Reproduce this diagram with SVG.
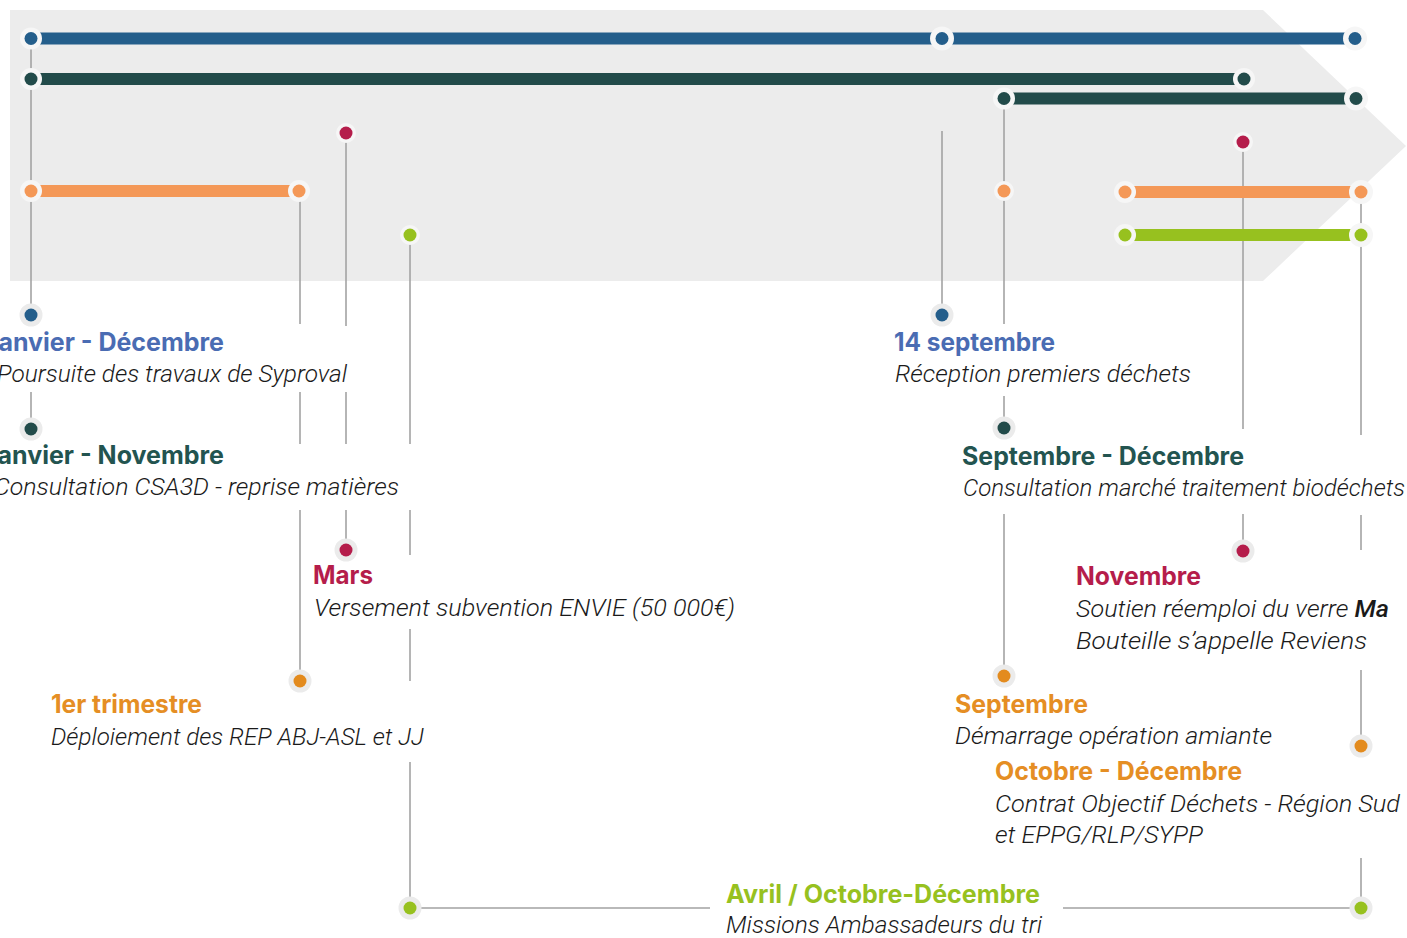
<svg xmlns="http://www.w3.org/2000/svg" width="1407" height="938" viewBox="0 0 1407 938">
<style>
.bg{fill:#ececec}
.ln{stroke:#a3a3a3;stroke-width:1.6;fill:none}
.bar{stroke-width:12;fill:none}
.ringA{fill:#f6f6f6}
.ringB{fill:#ebebeb}
.h{font-family:Inter,"Liberation Sans",sans-serif;font-weight:700;font-size:25px}
.b{font-family:Roboto,"Liberation Sans",sans-serif;font-style:italic;font-weight:300;font-size:24px;fill:#1a1a1a}
.blue{fill:#4a6cb3}.dgreen{fill:#235450}.crim{fill:#b51d4b}.orange{fill:#e58e24}.lgreen{fill:#97c11f}
</style>
<rect x="0" y="0" width="1407" height="938" fill="#ffffff"/>
<polygon class="bg" points="10,10 1263,10 1406,146 1263,281 10,281"/>
<g id="connectors">
<path class="ln" d="M31 38V315M31 392V429"/>
<path class="ln" d="M300 191V324M300 392V444M300 510V681"/>
<path class="ln" d="M346 133V326M346 392V444M346 510V550"/>
<path class="ln" d="M410 235V444M410 510V555M410 629V681M410 762V908"/>
<path class="ln" d="M942 131V315"/>
<path class="ln" d="M1004 98V324M1004 396V428M1004 514V676"/>
<path class="ln" d="M1243 142V429M1243 514V551"/>
<path class="ln" d="M1361 192V435M1361 515V550M1361 670V746M1361 858V908"/>
<path class="ln" d="M410 908H710M1063 908H1361"/>
</g>
<g id="bars">
<line class="bar" x1="31" y1="38.5" x2="1355" y2="38.5" stroke="#245e8b"/>
<line class="bar" x1="31" y1="79" x2="1244" y2="79" stroke="#224b4a"/>
<line class="bar" x1="1004" y1="98.5" x2="1356" y2="98.5" stroke="#224b4a"/>
<line class="bar" x1="31" y1="191" x2="299" y2="191" stroke="#f49857"/>
<line class="bar" x1="1125" y1="192" x2="1361" y2="192" stroke="#f49857"/>
<line class="bar" x1="1125" y1="235" x2="1361" y2="235" stroke="#97c11f"/>
</g>
<g id="top-dots">
<circle class="ringA" cx="31" cy="38.5" r="11"/><circle cx="31" cy="38.5" r="6.5" fill="#245e8b"/>
<circle class="ringA" cx="942" cy="38.5" r="12"/><circle cx="942" cy="38.5" r="6.5" fill="#245e8b"/>
<circle class="ringA" cx="1355" cy="38.5" r="12"/><circle cx="1355" cy="38.5" r="6.5" fill="#245e8b"/>
<circle class="ringA" cx="31" cy="79" r="11"/><circle cx="31" cy="79" r="6.5" fill="#224b4a"/>
<circle class="ringA" cx="1244" cy="79" r="11"/><circle cx="1244" cy="79" r="6.5" fill="#224b4a"/>
<circle class="ringA" cx="1004" cy="98.5" r="11"/><circle cx="1004" cy="98.5" r="6.5" fill="#224b4a"/>
<circle class="ringA" cx="1356" cy="98.5" r="12"/><circle cx="1356" cy="98.5" r="6.5" fill="#224b4a"/>
<circle class="ringA" cx="346" cy="133" r="10"/><circle cx="346" cy="133" r="6.5" fill="#b51d4b"/>
<circle class="ringA" cx="1243" cy="142" r="10"/><circle cx="1243" cy="142" r="6.5" fill="#b51d4b"/>
<circle class="ringA" cx="31" cy="191" r="11"/><circle cx="31" cy="191" r="6.5" fill="#f49857"/>
<circle class="ringA" cx="299" cy="191" r="11"/><circle cx="299" cy="191" r="6.5" fill="#f49857"/>
<circle class="ringA" cx="1004" cy="191" r="10"/><circle cx="1004" cy="191" r="6.5" fill="#f49857"/>
<circle class="ringA" cx="1125" cy="192" r="11"/><circle cx="1125" cy="192" r="6.5" fill="#f49857"/>
<circle class="ringA" cx="1361" cy="192" r="12"/><circle cx="1361" cy="192" r="6.5" fill="#f49857"/>
<circle class="ringA" cx="410" cy="235" r="10"/><circle cx="410" cy="235" r="6.5" fill="#97c11f"/>
<circle class="ringA" cx="1125" cy="235" r="11"/><circle cx="1125" cy="235" r="6.5" fill="#97c11f"/>
<circle class="ringA" cx="1361" cy="235" r="12"/><circle cx="1361" cy="235" r="6.5" fill="#97c11f"/>
</g>
<g id="node-syproval">
<circle class="ringB" cx="31" cy="315" r="11.5"/><circle cx="31" cy="315" r="6.5" fill="#245e8b"/>
<text class="h blue" x="224" y="351" text-anchor="end">Janvier - Décembre</text>
<text class="b" x="347" y="382" text-anchor="end" textLength="350" lengthAdjust="spacingAndGlyphs">Poursuite des travaux de Syproval</text>
</g>
<g id="node-csa3d">
<circle class="ringB" cx="31" cy="429" r="11.5"/><circle cx="31" cy="429" r="6.5" fill="#224b4a"/>
<text class="h dgreen" x="224" y="464" text-anchor="end">Janvier - Novembre</text>
<text class="b" x="399" y="495" text-anchor="end" textLength="405" lengthAdjust="spacingAndGlyphs">Consultation CSA3D - reprise matières</text>
</g>
<g id="node-mars">
<circle class="ringB" cx="346" cy="550" r="11.5"/><circle cx="346" cy="550" r="6.5" fill="#b51d4b"/>
<text class="h crim" x="313" y="584" textLength="60" lengthAdjust="spacingAndGlyphs">Mars</text>
<text class="b" x="314" y="616" textLength="421" lengthAdjust="spacingAndGlyphs">Versement subvention ENVIE (50 000€)</text>
</g>
<g id="node-trimestre">
<circle class="ringB" cx="300" cy="681" r="11.5"/><circle cx="300" cy="681" r="6.5" fill="#e38b1e"/>
<text class="h orange" x="51" y="713" textLength="151" lengthAdjust="spacingAndGlyphs">1er trimestre</text>
<text class="b" x="51" y="745" textLength="373" lengthAdjust="spacingAndGlyphs">Déploiement des REP ABJ-ASL et JJ</text>
</g>
<g id="node-14sept">
<circle class="ringB" cx="942" cy="315" r="11.5"/><circle cx="942" cy="315" r="6.5" fill="#245e8b"/>
<text class="h blue" x="894" y="351" textLength="161" lengthAdjust="spacingAndGlyphs">14 septembre</text>
<text class="b" x="895" y="382" textLength="296" lengthAdjust="spacingAndGlyphs">Réception premiers déchets</text>
</g>
<g id="node-biodechets">
<circle class="ringB" cx="1004" cy="428" r="11.5"/><circle cx="1004" cy="428" r="6.5" fill="#224b4a"/>
<text class="h dgreen" x="962" y="465" textLength="282" lengthAdjust="spacingAndGlyphs">Septembre - Décembre</text>
<text class="b" x="963" y="496" textLength="442" lengthAdjust="spacingAndGlyphs">Consultation marché traitement biodéchets</text>
</g>
<g id="node-novembre">
<circle class="ringB" cx="1243" cy="551" r="11.5"/><circle cx="1243" cy="551" r="6.5" fill="#b51d4b"/>
<text class="h crim" x="1076" y="585" textLength="125" lengthAdjust="spacingAndGlyphs">Novembre</text>
<text class="b" x="1076" y="617" textLength="313" lengthAdjust="spacingAndGlyphs">Soutien réemploi du verre <tspan font-weight="500">Ma</tspan></text>
<text class="b" x="1076" y="649" font-weight="500" textLength="291" lengthAdjust="spacingAndGlyphs">Bouteille s’appelle Reviens</text>
</g>
<g id="node-amiante">
<circle class="ringB" cx="1004" cy="676" r="11.5"/><circle cx="1004" cy="676" r="6.5" fill="#e38b1e"/>
<text class="h orange" x="955" y="713" textLength="133" lengthAdjust="spacingAndGlyphs">Septembre</text>
<text class="b" x="955" y="744" textLength="317" lengthAdjust="spacingAndGlyphs">Démarrage opération amiante</text>
</g>
<g id="node-contrat">
<circle class="ringB" cx="1361" cy="746" r="11.5"/><circle cx="1361" cy="746" r="6.5" fill="#e38b1e"/>
<text class="h orange" x="995" y="780" textLength="247" lengthAdjust="spacingAndGlyphs">Octobre - Décembre</text>
<text class="b" x="995" y="812" textLength="405" lengthAdjust="spacingAndGlyphs">Contrat Objectif Déchets - Région Sud</text>
<text class="b" x="995" y="843" textLength="208" lengthAdjust="spacingAndGlyphs">et EPPG/RLP/SYPP</text>
</g>
<g id="node-ambassadeurs">
<circle class="ringB" cx="410" cy="908" r="11.5"/><circle cx="410" cy="908" r="6.5" fill="#97c11f"/>
<circle class="ringB" cx="1361" cy="908" r="11.5"/><circle cx="1361" cy="908" r="6.5" fill="#97c11f"/>
<text class="h lgreen" x="726" y="903" textLength="314" lengthAdjust="spacingAndGlyphs">Avril / Octobre-Décembre</text>
<text class="b" x="726" y="933" textLength="316" lengthAdjust="spacingAndGlyphs">Missions Ambassadeurs du tri</text>
</g>
</svg>
